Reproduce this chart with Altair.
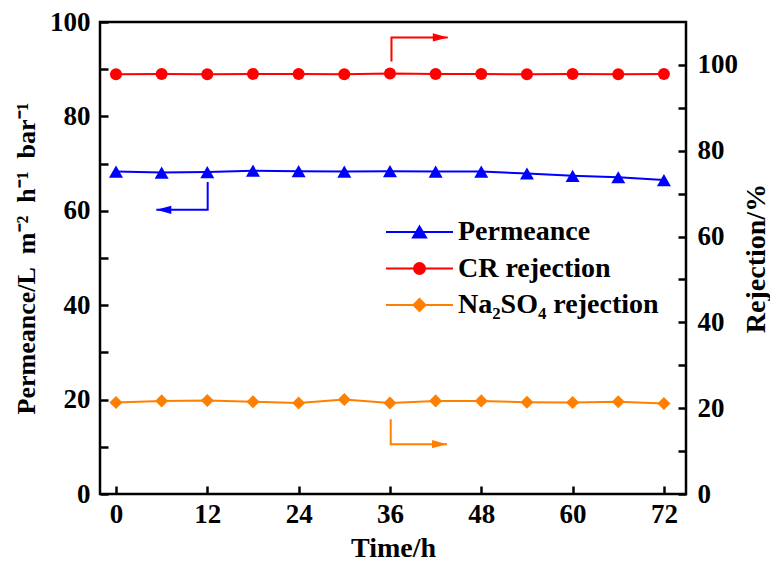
import altair as alt
import pandas as pd

# ---------------- data ----------------
time = [0, 6, 12, 18, 24, 30, 36, 42, 48, 54, 60, 66, 72]
permeance = [68.3, 68.1, 68.2, 68.5, 68.4, 68.3, 68.4, 68.3, 68.3, 67.9, 67.4, 67.1, 66.5]
cr_rejection = [97.8, 97.9, 97.8, 97.9, 97.9, 97.8, 98.0, 97.9, 97.9, 97.8, 97.9, 97.8, 97.9]
na_rejection = [21.3, 21.7, 21.8, 21.5, 21.2, 22.0, 21.2, 21.7, 21.7, 21.4, 21.3, 21.5, 21.1]

series_names = ["Permeance", "CR rejection", "Na\u2082SO\u2084 rejection"]
series_colors = ["#0000FF", "#FF0000", "#FF8000"]

x_ticks = [0, 12, 24, 36, 48, 60, 72]
left_ticks = [0, 10, 20, 30, 40, 50, 60, 70, 80, 90, 100]
right_ticks = [0, 10, 20, 30, 40, 50, 60, 70, 80, 90, 100]
x_domain = [-2.1, 74.9]
left_domain = [0, 100]
right_domain = [0, 110]

# annotation arrows (data units): L-shaped path, last point = arrow tip
blue_arrow_x = [12.05, 12.05, 5.3]
blue_arrow_y = [66.1, 60.2, 60.2]
red_arrow_x = [36.2, 36.2, 43.6]
red_arrow_y = [100.8, 106.4, 106.4]
orange_arrow_x = [36.1, 36.1, 43.5]
orange_arrow_y = [17.4, 11.6, 11.6]

FONT = "Liberation Serif"
FS = 27
TICK = 8  # inward tick length (axis pulled inside the frame by this much)

# legend symbols: line segment with marker in the middle
legend_paths = [
    "M-1,0H5.7M2.35,-0.55L3.0,0.55L1.7,0.55Z",
    "M-1,0H5.7M2.9,0A0.55,0.55,0,1,1,1.8,0A0.55,0.55,0,1,1,2.9,0Z",
    "M-1,0H5.7M1.75,0L2.35,-0.6L2.95,0L2.35,0.6Z",
]
head_right = "M0,0L-2,-0.55L-2,0.55Z"
head_left = "M0,0L2,-0.55L2,0.55Z"

# ---------------- frames ----------------
def series_df(vals):
    return pd.DataFrame({"time": time, "value": vals})

def arrow_df(xs, ys):
    return pd.DataFrame({"time": xs, "value": ys, "idx": list(range(len(xs)))})

def tip_df(xs, ys):
    return pd.DataFrame({"time": [xs[-1]], "value": [ys[-1]]})

common_axis = dict(
    domain=False, grid=False, ticks=True, offset=-TICK,
    tickSize=TICK, tickWidth=2.5, tickColor="black",
    labelFont=FONT, labelFontSize=FS, labelFontWeight="bold", labelColor="black",
    labelFlush=False, labelOverlap=False,
    titleFontWeight="bold", titleColor="black", titleFont=FONT,
    titleBaseline="middle", titleAlign="center",
)

x_enc = alt.X(
    "time:Q",
    scale=alt.Scale(domain=x_domain, nice=False, zero=False),
    axis=alt.Axis(
        values=x_ticks, title="Time/h", labelPadding=7,
        titleFontSize=28, titleX=293, titleY=54 + TICK,
        **common_axis,
    ),
)

y_left = alt.Y(
    "value:Q",
    scale=alt.Scale(domain=left_domain, nice=False, zero=False),
    axis=alt.Axis(
        orient="left", values=left_ticks,
        labelExpr="datum.value % 20 === 0 ? datum.label : ''",
        title="Permeance/L\u00a0 m\u207b\u00b2\u00a0 h\u207b\u00b9\u00a0 bar\u207b\u00b9",
        labelPadding=10,
        titleFontSize=26, titleX=-74 - TICK, titleY=236, titleAngle=270,
        **common_axis,
    ),
)

y_right = alt.Y(
    "value:Q",
    scale=alt.Scale(domain=right_domain, nice=False, zero=False),
    axis=alt.Axis(
        orient="right", values=right_ticks,
        labelExpr="datum.value % 20 === 0 ? datum.label : ''",
        title="Rejection/%",
        labelPadding=11,
        titleFontSize=28, titleX=70 + TICK, titleY=236, titleAngle=270,
        **common_axis,
    ),
)

def series_layers(vals, y_enc, color, shape, size):
    d = series_df(vals)
    line = alt.Chart(d).mark_line(color=color, strokeWidth=2).encode(x=x_enc, y=y_enc)
    pts = alt.Chart(d).mark_point(
        filled=True, shape=shape, size=size, color=color, opacity=1
    ).encode(x=x_enc, y=y_enc)
    return [line, pts]

def arrow_layers(xs, ys, y_enc, color, head):
    line = alt.Chart(arrow_df(xs, ys)).mark_line(color=color, strokeWidth=2).encode(
        x=x_enc, y=y_enc, order="idx:Q"
    )
    tip = alt.Chart(tip_df(xs, ys)).mark_point(
        filled=True, shape=head, size=225, color=color, opacity=1
    ).encode(x=x_enc, y=y_enc)
    return [line, tip]

legend_df = pd.DataFrame({"series": series_names})
leg = alt.Legend(
    title=None, orient="none", legendX=282, legendY=196, padding=0,
    labelFont=FONT, labelFontSize=28, labelFontWeight="bold", labelColor="black",
    labelOffset=48, symbolSize=400, symbolStrokeWidth=2, rowPadding=8.5,
    labelLimit=400,
)
legend_layer = alt.Chart(legend_df).transform_filter("false").mark_point(
    filled=True, opacity=1, strokeWidth=2
).encode(
    fill=alt.Fill("series:N", scale=alt.Scale(domain=series_names, range=series_colors), legend=leg),
    stroke=alt.Stroke("series:N", scale=alt.Scale(domain=series_names, range=series_colors), legend=leg),
    shape=alt.Shape("series:N", scale=alt.Scale(domain=series_names, range=legend_paths), legend=leg),
)

left = alt.layer(
    *series_layers(permeance, y_left, series_colors[0], "triangle-up", 196),
    *arrow_layers(blue_arrow_x, blue_arrow_y, y_left, series_colors[0], head_left),
)
right = alt.layer(
    *series_layers(cr_rejection, y_right, series_colors[1], "circle", 144),
    *series_layers(na_rejection, y_right, series_colors[2], "diamond", 170),
    *arrow_layers(red_arrow_x, red_arrow_y, y_right, series_colors[1], head_right),
    *arrow_layers(orange_arrow_x, orange_arrow_y, y_right, series_colors[2], head_right),
    legend_layer,
)

chart = (
    alt.layer(left, right)
    .resolve_scale(y="independent")
    .properties(
        width=586, height=472,
        autosize=alt.AutoSizeParams(type="none"),
        padding={"left": 92, "top": 14, "right": 84, "bottom": 77},
        background="white",
    )
    .configure_view(stroke="black", strokeWidth=2.5)
)

chart.save("out.html", embed_options={"renderer": "svg", "actions": False})
